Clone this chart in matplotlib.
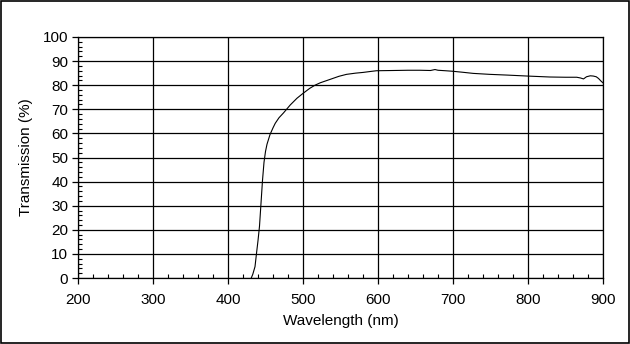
import matplotlib
matplotlib.use("Agg")
import matplotlib.pyplot as plt
from matplotlib.patches import Rectangle
from matplotlib.ticker import MultipleLocator

plt.rcParams['font.family'] = ['Liberation Sans', 'DejaVu Sans']

wavelength = [431, 433, 436, 438, 440, 442, 444, 446, 448, 450, 452, 456, 460, 463,
              468, 474, 483, 492, 500, 509, 516, 523, 536, 548, 558, 570, 580, 590, 598,
              620, 640, 656, 670, 676, 680, 690, 699, 712, 727, 749, 772, 799, 829, 850,
              865, 870, 874, 878, 883, 887, 891, 894, 898, 900]
transmission = [0, 1.5, 4.7, 10.2, 15.5, 21.5, 31, 40.5, 48, 52.5, 55.5, 59.5, 62.3, 64.2,
                66.5, 68.5, 71.8, 74.6, 76.6, 78.7, 80.0, 81.0, 82.4, 83.7, 84.5, 85.0, 85.3, 85.7, 86.0,
                86.1, 86.2, 86.2, 86.1, 86.5, 86.2, 86.0, 85.8, 85.4, 84.9, 84.5, 84.2, 83.8, 83.4, 83.3,
                83.3, 83.0, 82.6, 83.5, 83.9, 83.8, 83.5, 82.8, 81.5, 81.0]

fig = plt.figure(figsize=(6.3, 3.44), dpi=100)
ax = fig.add_axes([78/630, 66/344, 525/630, 241/344])

ax.plot(wavelength, transmission, color='black', linewidth=0.8)

ax.set_xlim(200, 900)
ax.set_ylim(0, 100)
ax.xaxis.set_major_locator(MultipleLocator(100))
ax.yaxis.set_major_locator(MultipleLocator(10))
ax.xaxis.set_minor_locator(MultipleLocator(20))
ax.yaxis.set_minor_locator(MultipleLocator(2))
ax.grid(True, which='major', color='black', linewidth=0.9)
ax.tick_params(which='major', direction='out', length=4, width=0.9, labelsize=11, color='black')
ax.tick_params(which='minor', direction='in', length=3, width=0.8, color='black')
ax.tick_params(axis='x', which='major', pad=7)
ax.tick_params(axis='y', which='major', pad=3)
for s in ax.spines.values():
    s.set_linewidth(0.9)
    s.set_color('black')

ax.set_xlabel('Wavelength (nm)', fontsize=11, labelpad=5)
ax.set_ylabel('Transmission (%)', fontsize=11, labelpad=7)

fig.patches.append(Rectangle((0.0015, 0.003), 0.997, 0.994, transform=fig.transFigure,
                             fill=False, edgecolor='black', linewidth=1.2))

fig.savefig('out.png', dpi=100)
